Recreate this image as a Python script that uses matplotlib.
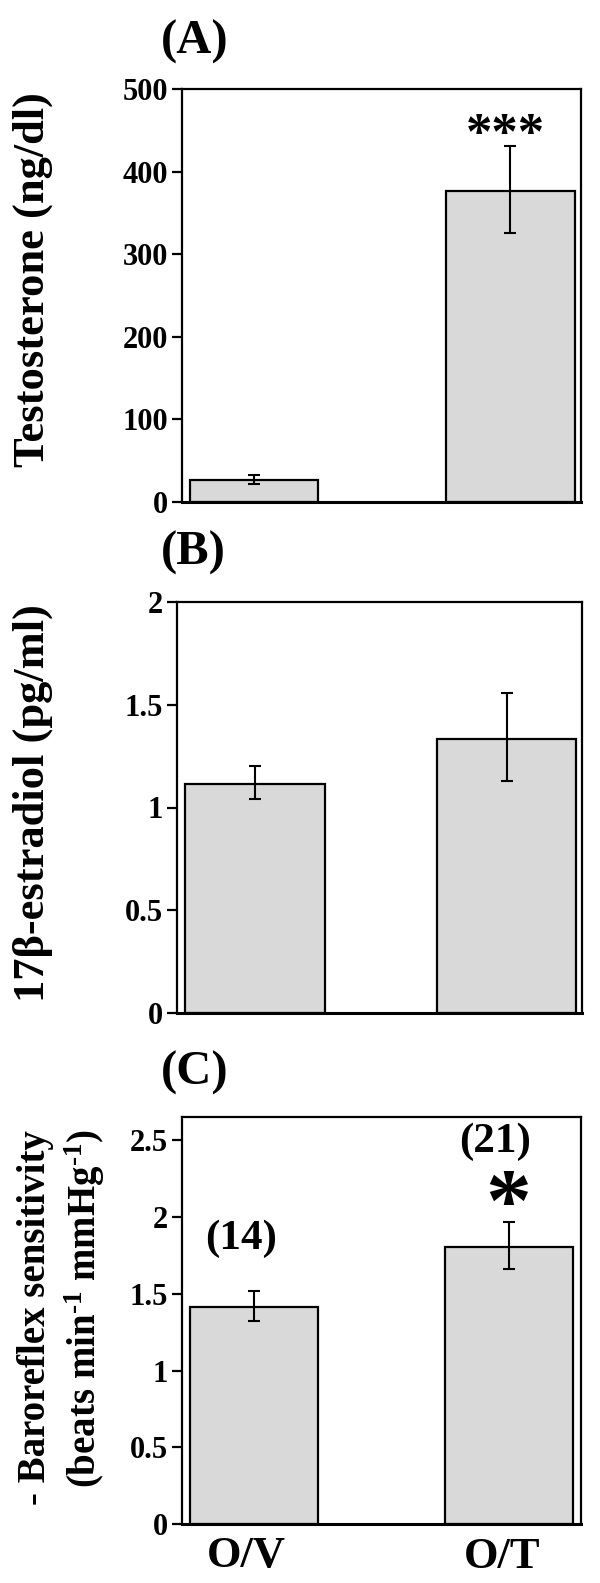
import matplotlib
matplotlib.use("Agg")
import matplotlib.pyplot as plt

plt.rcParams['font.family'] = ['Liberation Serif', 'DejaVu Serif']
plt.rcParams['font.weight'] = 'bold'
plt.rcParams['mathtext.fontset'] = 'custom'
plt.rcParams['mathtext.rm'] = 'Liberation Serif:bold'
plt.rcParams['mathtext.bf'] = 'Liberation Serif:bold'
plt.rcParams['mathtext.it'] = 'Liberation Serif:bold'

# data
groups = ['O/V', 'O/T']

testo = [26.5, 377]
testo_err_lo = [4.5, 51]
testo_err_hi = [6, 54]

estra = [1.115, 1.335]
estra_err_lo = [0.075, 0.205]
estra_err_hi = [0.085, 0.222]

baro = [1.415, 1.805]
baro_err_lo = [0.095, 0.145]
baro_err_hi = [0.105, 0.165]
baro_n = ['(14)', '(21)']

W, H = 600, 1583
fig = plt.figure(figsize=(W / 100, H / 100), dpi=100)


def make_axes(left, right, top, bottom):
    return fig.add_axes([left / W, 1 - bottom / H, (right - left) / W, (bottom - top) / H])


def style(ax, ylim, yticks, yticklabels):
    ax.set_ylim(*ylim)
    ax.set_yticks(yticks)
    ax.set_yticklabels(yticklabels, fontsize=22, fontweight='bold')
    ax.tick_params(axis='y', direction='out', length=7, width=1.6, pad=3)
    ax.tick_params(axis='x', length=0)
    for s in ax.spines.values():
        s.set_linewidth(1.6)
    ax.spines['bottom'].set_linewidth(2.2)


def bars(ax, vals, lo, hi, width, xlim):
    x = list(range(len(vals)))
    ax.bar(x, vals, width=width, color='#d9d9d9', edgecolor='black', linewidth=1.6, zorder=2)
    ax.errorbar(x, vals, yerr=[lo, hi], fmt='none', ecolor='black', elinewidth=1.5,
                capsize=4.5, capthick=1.5, zorder=3)
    ax.set_xlim(*xlim)
    return x


# (A) testosterone
axA = make_axes(182, 581, 89, 502)
bars(axA, testo, testo_err_lo, testo_err_hi, 0.5, (-0.28, 1.275))
style(axA, (0, 500), [0, 100, 200, 300, 400, 500], ['0', '100', '200', '300', '400', '500'])
axA.set_xticks([])
axA.text(0.98, 443, '***', ha='center', va='center', fontsize=38, fontweight='bold')
fig.text(195 / W, 1 - 42 / H, '(A)', ha='center', va='center', fontsize=35, fontweight='bold')
fig.text(33 / W, 1 - 280 / H, 'Testosterone (ng/dl)', rotation=90, ha='center', va='center',
         fontsize=32, fontweight='bold')

# (B) estradiol
axB = make_axes(177, 582, 602, 1013)
bars(axB, estra, estra_err_lo, estra_err_hi, 0.555, (-0.31, 1.30))
style(axB, (0, 2), [0, 0.5, 1, 1.5, 2], ['0', '0.5', '1', '1.5', '2'])
axB.set_xticks([])
fig.text(193 / W, 1 - 553 / H, '(B)', ha='center', va='center', fontsize=35, fontweight='bold')
fig.text(33 / W, 1 - 803 / H, '17β-estradiol (pg/ml)', rotation=90, ha='center', va='center',
         fontsize=32, fontweight='bold')

# (C) baroreflex
axC = make_axes(182, 581, 1117, 1524)
xc = bars(axC, baro, baro_err_lo, baro_err_hi, 0.5, (-0.28, 1.28))
style(axC, (0, 2.652), [0, 0.5, 1, 1.5, 2, 2.5], ['0', '0.5', '1', '1.5', '2', '2.5'])
axC.set_xticks([xi - 0.03 for xi in xc])
axC.set_xticklabels(groups, fontsize=32, fontweight='bold')
axC.tick_params(axis='x', pad=9)
axC.text(-0.05, 1.86, baro_n[0], ha='center', va='center', fontsize=31, fontweight='bold')
axC.text(0.944, 2.49, baro_n[1], ha='center', va='center', fontsize=31, fontweight='bold')
axC.text(0.996, 2.05, '*', ha='center', va='center', fontsize=66, fontweight='bold')
fig.text(195 / W, 1 - 1073 / H, '(C)', ha='center', va='center', fontsize=35, fontweight='bold')
fig.text(36 / W, 1 - 1318 / H, '- Baroreflex sensitivity', rotation=90, ha='center', va='center',
         fontsize=28, fontweight='bold')
fig.text(85 / W, 1 - 1308 / H, r'(beats min$^{\text{-1}}$ mmHg$^{\text{-1}}$)', rotation=90,
         ha='center', va='center', fontsize=28, fontweight='bold')

fig.savefig('out.png', dpi=100)
